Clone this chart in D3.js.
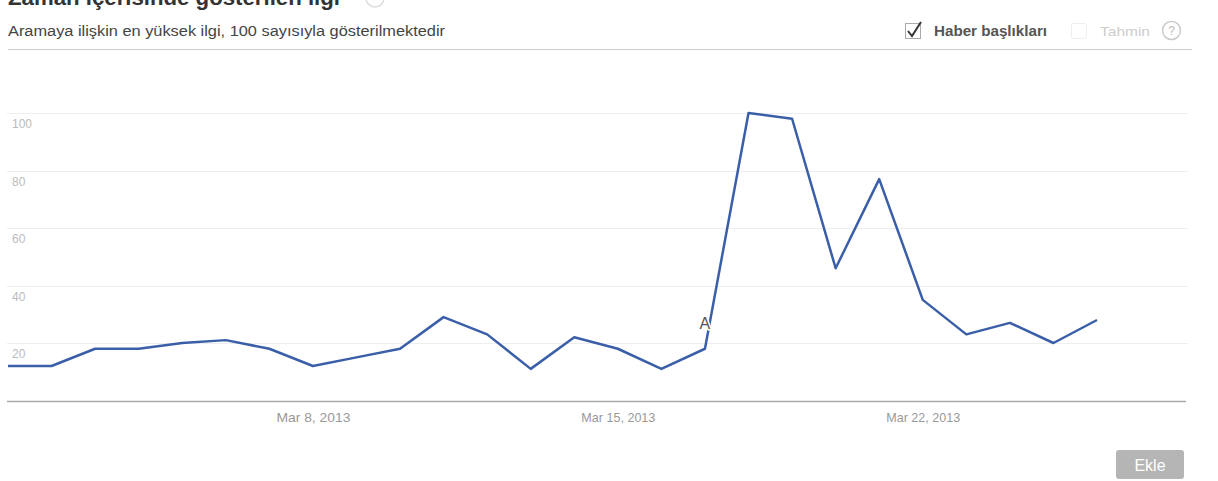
<!DOCTYPE html>
<html>
<head>
<meta charset="utf-8">
<script src="https://cdn.jsdelivr.net/npm/d3@7"></script>
<style>
  body { margin: 0; background: #fff; }
  svg { display: block; font-family: "Liberation Sans", Arial, sans-serif; }
</style>
</head>
<body>
<div id="content"></div>
<script>
// daily search interest, Mar 1 - Mar 26, 2013
var days = d3.range(0, 26).map(function(d) { return new Date(2013, 2, 1 + d); });
var values = [12, 12, 18, 18, 20, 21, 18, 12, 15, 18, 29, 23, 11, 22, 18, 11, 18, 100, 98, 46, 77, 35, 23, 27, 20, 28];
var yTicks = [20, 40, 60, 80, 100];
var xTicks = [new Date(2013, 2, 8), new Date(2013, 2, 15), new Date(2013, 2, 22)];
var newsMarks = [{ date: new Date(2013, 2, 17), label: "A" }];

var W = 1218, H = 481;
var svg = d3.select("#content").append("svg").attr("width", W).attr("height", H);

var x = d3.scaleTime().domain([days[0], days[days.length - 1]]).range([8, 1097]);
var y = d3.scaleLinear().domain([0, 100]).range([400.5, 113]);

// header (title is cut by the top edge, as in the source screenshot)
svg.append("text").attr("x", 8).attr("y", 5).attr("font-size", 22).attr("font-weight", "bold")
  .attr("fill", "#333").attr("textLength", 332).attr("lengthAdjust", "spacingAndGlyphs")
  .text("Zaman içerisinde gösterilen ilgi");
svg.append("circle").attr("cx", 375).attr("cy", -2).attr("r", 9).attr("fill", "none").attr("stroke", "#ddd").attr("stroke-width", 1.5);

svg.append("text").attr("x", 8).attr("y", 36).attr("font-size", 14).attr("fill", "#444")
  .attr("textLength", 437).attr("lengthAdjust", "spacingAndGlyphs")
  .text("Aramaya ilişkin en yüksek ilgi, 100 sayısıyla gösterilmektedir");
svg.append("line").attr("x1", 8).attr("x2", 1192).attr("y1", 49.5).attr("y2", 49.5).attr("stroke", "#ccc");

// options top right
svg.append("rect").attr("x", 905.5).attr("y", 23.5).attr("width", 15).attr("height", 15).attr("fill", "#fff").attr("stroke", "#aaa");
svg.append("path").attr("d", "M908,31 L912,36 L921,22").attr("fill", "none").attr("stroke", "#333").attr("stroke-width", 2);
svg.append("text").attr("x", 934).attr("y", 36).attr("font-size", 14).attr("font-weight", "bold").attr("fill", "#555")
  .attr("textLength", 113).attr("lengthAdjust", "spacingAndGlyphs").text("Haber başlıkları");
svg.append("rect").attr("x", 1071.5).attr("y", 23.5).attr("width", 15).attr("height", 15).attr("rx", 2).attr("fill", "#fff").attr("stroke", "#eee");
svg.append("text").attr("x", 1100).attr("y", 36).attr("font-size", 13).attr("fill", "#ccc")
  .attr("textLength", 50).attr("lengthAdjust", "spacingAndGlyphs").text("Tahmin");
svg.append("circle").attr("cx", 1171.5).attr("cy", 30.5).attr("r", 9).attr("fill", "#fff").attr("stroke", "#ccc").attr("stroke-width", 1.5);
svg.append("text").attr("x", 1171.5).attr("y", 35).attr("text-anchor", "middle").attr("font-size", 12).attr("fill", "#bbb").text("?");

// grid
var grid = svg.append("g");
grid.selectAll("line").data(yTicks).enter().append("line")
  .attr("x1", 7).attr("x2", 1188)
  .attr("y1", function(d) { return Math.round(y(d)) + 0.5; })
  .attr("y2", function(d) { return Math.round(y(d)) + 0.5; })
  .attr("stroke", "#eee");
grid.selectAll("text").data(yTicks).enter().append("text")
  .attr("x", 12).attr("y", function(d) { return y(d) + 15; })
  .attr("font-size", 12).attr("fill", "#bbb").text(function(d) { return d; });

// x axis
var xAxis = d3.axisBottom(x).tickValues(xTicks).tickSize(0).tickPadding(12).tickFormat(d3.timeFormat("%b %-d, %Y"));
var gx = svg.append("g").attr("transform", "translate(0,401)").call(xAxis);
gx.select(".domain").remove();
gx.selectAll("text").attr("font-size", 13).attr("fill", "#999")
  .attr("textLength", 74).attr("lengthAdjust", "spacingAndGlyphs");
svg.append("line").attr("x1", 7).attr("x2", 1186).attr("y1", 401.5).attr("y2", 401.5).attr("stroke", "#aaa").attr("stroke-width", 1.5);

// line
var line = d3.line().x(function(d, i) { return x(days[i]); }).y(function(d) { return y(d); });
svg.append("path").datum(values).attr("d", line).attr("fill", "none")
  .attr("stroke", "#3a5fa8").attr("stroke-width", 2.5).attr("stroke-linejoin", "round");

// news marker
svg.selectAll(".mark").data(newsMarks).enter().append("text").attr("class", "mark")
  .attr("x", function(d) { return x(d.date); }).attr("y", 329)
  .attr("text-anchor", "middle").attr("font-size", 16).attr("fill", "#555")
  .attr("stroke", "#fff").attr("stroke-width", 3).attr("paint-order", "stroke")
  .text(function(d) { return d.label; });

// button
svg.append("rect").attr("x", 1116).attr("y", 450).attr("width", 68).attr("height", 29).attr("rx", 3).attr("fill", "#b5b5b5");
svg.append("text").attr("x", 1150).attr("y", 471).attr("text-anchor", "middle").attr("font-size", 16).attr("fill", "#fff").text("Ekle");
</script>
</body>
</html>
